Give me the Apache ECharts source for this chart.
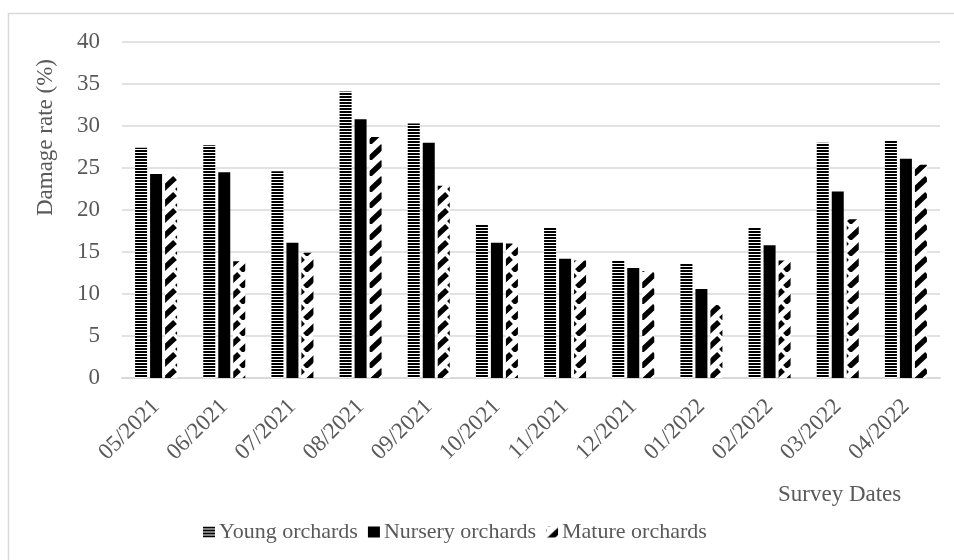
<!DOCTYPE html>
<html>
<head>
<meta charset="utf-8">
<script src="https://cdn.jsdelivr.net/npm/echarts@6/dist/echarts.min.js"></script>
<style>
html,body{margin:0;padding:0;background:#fff;}
#chart{width:954px;height:560px;}
</style>
</head>
<body>
<div id="chart"></div>
<script>
const categories = ['05/2021','06/2021','07/2021','08/2021','09/2021','10/2021','11/2021','12/2021','01/2022','02/2022','03/2022','04/2022'];
const seriesNames = ['Young orchards','Nursery orchards','Mature orchards'];
const young   = [27.4, 27.7, 24.6, 34.1, 30.3, 18.3, 17.9, 14.0, 13.6, 17.9, 28.0, 28.3];
const nursery = [24.3, 24.5, 16.1, 30.8, 28.0, 16.1, 14.2, 13.1, 10.6, 15.8, 22.2, 26.1];
const mature  = [24.2, 13.9, 14.9, 28.7, 22.9, 16.0, 14.0, 12.7,  8.7, 14.0, 18.9, 25.4];
const yMin = 0, yMax = 40, yStep = 5;
const yName = 'Damage rate (%)';
const xName = 'Survey Dates';

const FONT = "'Liberation Serif', 'Times New Roman', serif";
const GRAY = '#595959';
const FS = 23;

function stripePattern(){
  const c = document.createElement('canvas');
  c.width = 4; c.height = 3;
  const g = c.getContext('2d');
  g.fillStyle = '#fff'; g.fillRect(0,0,4,3);
  g.fillStyle = '#000'; g.fillRect(0,0,4,2);
  return {image: c, repeat: 'repeat'};
}
function diagPattern(){
  const s = 16;
  const c = document.createElement('canvas');
  c.width = s; c.height = s;
  const g = c.getContext('2d');
  g.fillStyle = '#fff'; g.fillRect(0,0,s,s);
  g.strokeStyle = '#000'; g.lineWidth = 5.5; g.lineCap = 'butt';
  [[-s,0],[0,0],[s,0]].forEach(function(o){
    g.beginPath();
    g.moveTo(o[0]+1, s-1);
    g.lineTo(o[0]+s-1, 2);
    g.stroke();
  });
  return {image: c, repeat: 'repeat'};
}

const chart = echarts.init(document.getElementById('chart'), null, {renderer:'canvas'});
const labelStyle = {fontFamily: FONT, fontSize: FS, color: GRAY};

const option = {
  animation: false,
  backgroundColor: '#fff',
  grid: {left: 122, right: 14, top: 42, bottom: 182, containLabel: false},
  legend: {
    data: seriesNames,
    left: 198, top: 516,
    itemWidth: 12, itemHeight: 11, itemGap: 10,
    icon: 'rect',
    textStyle: {fontFamily: FONT, fontSize: 22, color: GRAY, padding: [0,0,0,-1]}
  },
  xAxis: {
    type: 'category',
    data: categories,
    axisLine: {lineStyle: {color: '#d9d9d9', width: 2}},
    axisTick: {show: false},
    axisLabel: Object.assign({rotate: 45, margin: 25, interval: 0}, labelStyle)
  },
  yAxis: {
    type: 'value',
    min: yMin, max: yMax, interval: yStep,
    axisLine: {show: false},
    axisTick: {show: false},
    axisLabel: Object.assign({margin: 22}, labelStyle),
    splitLine: {lineStyle: {color: '#d9d9d9', width: 1.5}}
  },
  graphic: [
    {type: 'rect', silent: true, shape: {x: 8.5, y: 13.5, width: 1000, height: 1000},
     style: {fill: 'none', stroke: '#d9d9d9', lineWidth: 1.5}},
    {type: 'text', left: 34, top: 59, rotation: Math.PI/2,
     style: {text: yName, font: FS + 'px ' + FONT, fill: GRAY}},
    {type: 'text', left: 778, top: 483,
     style: {text: xName, font: FS + 'px ' + FONT, fill: GRAY}}
  ],
  series: [
    {name: seriesNames[0], type: 'bar', data: young, barWidth: 12, barGap: '25%',
     itemStyle: {color: stripePattern()}},
    {name: seriesNames[1], type: 'bar', data: nursery, barWidth: 12, barGap: '25%',
     itemStyle: {color: '#000'}},
    {name: seriesNames[2], type: 'bar', data: mature, barWidth: 12, barGap: '25%',
     itemStyle: {color: diagPattern()}}
  ]
};
chart.setOption(option);
</script>
</body>
</html>
